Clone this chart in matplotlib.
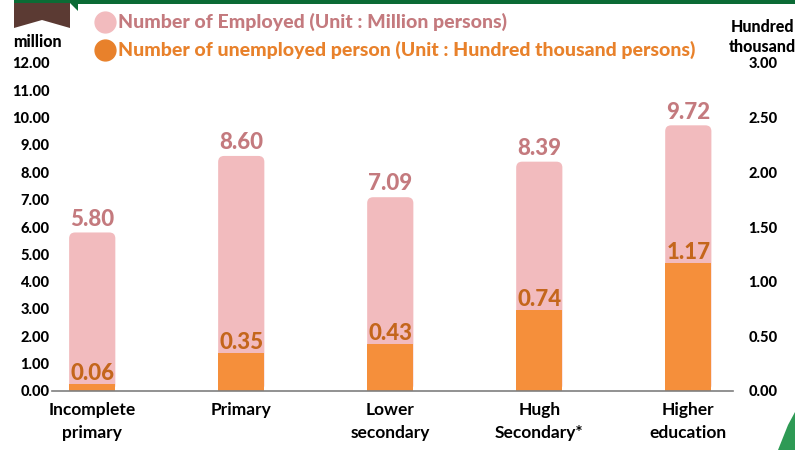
import matplotlib.pyplot as plt
from matplotlib.patches import FancyBboxPatch, Polygon, Rectangle
from matplotlib.lines import Line2D

plt.rcParams['font.family'] = ['Lato', 'DejaVu Sans']

# data
categories = ["Incomplete\nprimary", "Primary", "Lower\nsecondary", "Hugh\nSecondary*", "Higher\neducation"]
employed = [5.80, 8.60, 7.09, 8.39, 9.72]        # million persons
unemployed = [0.06, 0.35, 0.43, 0.74, 1.17]      # hundred thousand persons
left_ticks = [0, 1, 2, 3, 4, 5, 6, 7, 8, 9, 10, 11, 12]
right_ticks = [0, 0.5, 1.0, 1.5, 2.0, 2.5, 3.0]

pink = "#F2BBBE"
pink_txt = "#C47A7E"
orange = "#F58F3B"
orange_txt = "#C4661C"
orange_leg = "#E8812B"

W, H = 795, 450
fig = plt.figure(figsize=(W / 100, H / 100), dpi=100)
ax = fig.add_axes([52 / W, 1 - 391 / H, (733 - 52) / W, (391 - 63) / H])
ax2 = ax.twinx()

x = list(range(len(categories)))
bw = 0.31
ax.set_xlim(-0.27, 4.3)
ax.set_ylim(0, 12)
ax2.set_ylim(0, 3)

# rounded pink bars on left axis
px_x = (733 - 52) / 4.57
px_y = (391 - 63) / 12
asp = (1 / px_y) / (1 / px_x)
for xi, v in zip(x, employed):
    ax.add_patch(FancyBboxPatch((xi - bw / 2, 0), bw, v,
                                boxstyle="round,pad=0,rounding_size=0.04",
                                mutation_aspect=asp, fc=pink, ec="none"))
    ax.annotate(f"{v:.2f}", (xi, v), xytext=(0, 2), textcoords="offset points",
                ha="center", va="bottom", fontsize=16, fontweight="black", color=pink_txt)

# orange bars on right axis
ax2.bar(x, unemployed, width=bw, color=orange, zorder=2)
for xi, v in zip(x, unemployed):
    ax2.annotate(f"{v:.2f}", (xi, v), xytext=(0, 0), textcoords="offset points",
                 ha="center", va="bottom", fontsize=16, fontweight="black", color=orange_txt)

for a in (ax, ax2):
    for s in a.spines.values():
        s.set_visible(False)
ax2.spines["bottom"].set_visible(True)
ax2.spines["bottom"].set_color("#7F7F7F")
ax2.spines["bottom"].set_linewidth(1.2)

ax.set_yticks(left_ticks)
ax.set_yticklabels([f"{t:.2f}" for t in left_ticks], fontsize=10.5, fontweight="black")
ax.tick_params(axis="y", length=0, pad=2)
ax2.set_yticks(right_ticks)
ax2.set_yticklabels([f"{t:.2f}" for t in right_ticks], fontsize=10.5, fontweight="black")
ax2.tick_params(axis="y", length=0, pad=11)

ax.set_xticks(x)
ax.set_xticklabels(categories, fontsize=12.5, fontweight="bold", linespacing=1.55)
ax.tick_params(axis="x", length=0, pad=8)

# axis unit labels
fig.text(37 / W, 1 - 42 / H, "million", ha="center", va="center", fontsize=11.5, fontweight="black")
fig.text(762 / W, 1 - 37 / H, "Hundred\nthousand", ha="center", va="center",
         fontsize=11.5, fontweight="black", linespacing=1.3)

# legend
fig.add_artist(Line2D([105 / W], [1 - 22 / H], marker="o", markersize=15, color=pink,
                      transform=fig.transFigure))
fig.add_artist(Line2D([105 / W], [1 - 50 / H], marker="o", markersize=15, color=orange_leg,
                      transform=fig.transFigure))
fig.text(118 / W, 1 - 22 / H, "Number of Employed (Unit : Million persons)", va="center",
         fontsize=14, fontweight="black", color=pink_txt)
fig.text(118 / W, 1 - 50 / H, "Number of unemployed person (Unit : Hundred thousand persons)",
         va="center", fontsize=14, fontweight="black", color=orange_leg)

# decorations
def px(pts):
    return [(p[0] / W, 1 - p[1] / H) for p in pts]

fig.add_artist(Rectangle((78 / W, 1 - 4 / H), 1 - 78 / W, 4 / H, transform=fig.transFigure,
                         fc="#0B6B35", ec="none"))
fig.add_artist(Polygon(px([(14, 3), (70, 3), (70, 28), (42, 20), (14, 28)]),
                       transform=fig.transFigure, fc="#5B3A33", ec="none"))
fig.add_artist(Polygon(px([(14, 0), (78, 0), (78, 11), (70, 3), (14, 3)]),
                       transform=fig.transFigure, fc="#0B6B35", ec="none"))
fig.add_artist(Polygon(px([(778, 450), (788, 425), (795, 412), (795, 450)]),
                       transform=fig.transFigure, fc="#2E9A55", ec="none"))

fig.savefig("out.png", dpi=100)
